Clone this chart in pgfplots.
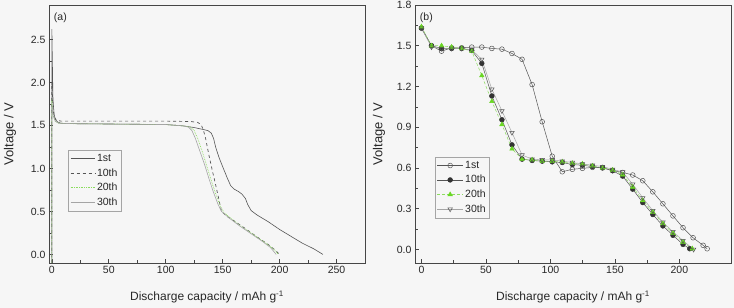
\documentclass[border=0pt]{standalone}
\usepackage{fontspec}
\setmainfont{Liberation Sans}
\usepackage{pgfplots}
\pgfplotsset{compat=1.18}
\usetikzlibrary{backgrounds}
\definecolor{bg}{RGB}{246,246,246}
\definecolor{ax}{RGB}{70,70,70}
\definecolor{txt}{RGB}{40,40,40}
\definecolor{dg}{RGB}{85,85,85}
\definecolor{lg}{RGB}{165,165,165}
\definecolor{gr}{RGB}{105,215,35}
\definecolor{grl}{RGB}{140,220,95}
\pgfplotsset{
  myax/.style={
    scale only axis, width=316pt, height=258pt, anchor=south west,
    axis line style={ax, line width=0.8pt},
    tick style={ax, line width=0.6pt},
    major tick length=4pt, minor tick length=2.5pt,
    tick align=inside, tick pos=left,
    minor x tick num=1, minor y tick num=1,
    tick label style={font=\fontsize{10.5}{12}\selectfont, text=txt},
    /pgf/number format/assume math mode=true,
    label style={font=\fontsize{12}{14}\selectfont, text=txt},
    ylabel style={font=\fontsize{13}{15}\selectfont},
    xlabel={Discharge capacity / mAh g\textsuperscript{-1}},
    ylabel={Voltage / V},
    yticklabel style={/pgf/number format/.cd, fixed, fixed zerofill, precision=1},
    xticklabel style={/pgf/number format/.cd, fixed, precision=0},
    legend cell align=left,
    clip=true,
  }
}
\begin{document}
\begin{tikzpicture}
\path[use as bounding box] (0,0) rectangle (734pt,308pt);
% ---------------- (a) ----------------
\begin{axis}[myax, at={(49pt,45pt)},
  xmin=-2.5, xmax=275, ymin=-0.1, ymax=2.9,
  xtick={0,50,100,150,200,250}, ytick={0,0.5,1,1.5,2,2.5},
  xlabel style={at={(axis description cs:0.5,0)}, anchor=center, yshift=-34pt},
  ylabel style={at={([xshift=-39pt]axis description cs:0,0.5)}, anchor=center},
  legend style={at={(0.06,0.438)}, anchor=north west, draw=lg, fill=none,
    font=\fontsize{10.5}{12}\selectfont, text=txt, row sep=1.5pt,
    inner xsep=2pt, inner ysep=2pt},
  legend image code/.code={\draw[#1] (0cm,0cm) -- (0.85cm,0cm);},
]
\addplot[dg, line width=0.6pt] coordinates {
(0,-0.1) (0,2.62) (0.5,2.2) (1,1.8) (2,1.63) (3,1.57) (5,1.54) (8,1.525) (20,1.52) (60,1.515) (100,1.51) (115,1.495) (125,1.475) (132,1.455) (137,1.44) (140,1.41) (142,1.35) (144,1.24) (147,1.12) (150,1.02) (154,0.89) (157,0.80) (160,0.76) (164,0.73) (167,0.70) (170,0.65) (172,0.58) (175,0.51) (180,0.46) (190,0.38) (200,0.29) (210,0.21) (220,0.13) (230,0.065) (238,0.0)
};
\addlegendentry{1st}
\addplot[dg, line width=0.7pt, dashed] coordinates {
(0,-0.1) (0,2.0) (1,1.7) (2,1.6) (4,1.56) (8,1.55) (100,1.55) (122,1.545) (128,1.535) (131,1.51) (133,1.45) (135,1.35) (138,1.15) (141,0.97) (144,0.80) (147,0.62) (149,0.50) (153,0.45) (160,0.39) (170,0.30) (180,0.205) (190,0.115) (197,0.04) (200,0.0)
};
\addlegendentry{10th}
\addplot[grl, line width=0.7pt, densely dotted] coordinates {
(0,-0.1) (0,1.8) (1,1.62) (3,1.55) (6,1.525) (20,1.52) (100,1.51) (115,1.495) (122,1.48) (125,1.44) (128,1.35) (132,1.20) (136,1.03) (140,0.86) (144,0.70) (148,0.56) (151,0.49) (157,0.42) (167,0.32) (177,0.23) (187,0.14) (194,0.07) (199,0.0)
};
\addlegendentry{20th}
\addplot[lg, line width=0.6pt] coordinates {
(0,-0.1) (0,1.75) (1,1.62) (3,1.55) (6,1.525) (20,1.52) (100,1.51) (115,1.495) (120,1.48) (123,1.44) (126,1.35) (130,1.20) (134,1.05) (138,0.88) (142,0.72) (146,0.58) (149,0.50) (155,0.43) (165,0.33) (175,0.24) (185,0.15) (192,0.08) (197,0.0)
};
\addlegendentry{30th}
\node[anchor=north west, font=\fontsize{10.5}{12}\selectfont, text=txt, inner sep=1pt] at (rel axis cs:0.012,0.975) {(a)};
\end{axis}
% ---------------- (b) ----------------
\begin{axis}[myax, at={(415pt,45pt)},
  xmin=-5, xmax=240, ymin=-0.1, ymax=1.8,
  xtick={0,50,100,150,200}, ytick={0,0.3,0.6,0.9,1.2,1.5,1.8},
  xlabel style={at={(axis description cs:0.5,0)}, anchor=center, yshift=-34pt},
  ylabel style={at={([xshift=-36pt]axis description cs:0,0.5)}, anchor=center},
  legend style={at={(0.063,0.411)}, anchor=north west, draw=lg, fill=none,
    font=\fontsize{10.5}{12}\selectfont, text=txt, row sep=1.5pt,
    inner xsep=2pt, inner ysep=2pt},
  legend image code/.code={\draw[mark repeat=2,mark phase=2,#1] plot coordinates {(0cm,0cm) (0.45cm,0cm) (0.9cm,0cm)};},
]
\addplot[dg, line width=0.5pt, mark=o, mark size=2.4pt, mark options={fill=bg, draw=dg}] coordinates {
(0,1.63) (7.8,1.50) (15.6,1.46) (23.4,1.485) (31.2,1.485) (39,1.49) (46.8,1.49) (54.6,1.48) (62.4,1.475) (70.2,1.443) (78,1.40) (85.8,1.214) (93.6,0.94) (101.4,0.686) (109.2,0.572) (117,0.59) (124.8,0.597) (132.6,0.604) (140.4,0.604) (148.2,0.58) (156,0.567) (163.8,0.548) (171.6,0.506) (179.4,0.424) (187.2,0.336) (195,0.247) (202.8,0.16) (210.6,0.086) (218.4,0.03) (221.5,0.005)
};
\addlegendentry{1st}
\addplot[dg, line width=0.5pt, mark=*, mark size=2.4pt, mark options={fill=black!80, draw=black!80}] coordinates {
(0,1.63) (7.8,1.50) (15.6,1.48) (23.4,1.48) (31.2,1.48) (39,1.465) (46.8,1.37) (54.6,1.13) (62.4,0.955) (70.2,0.77) (78,0.665) (85.8,0.655) (93.6,0.65) (101.4,0.645) (109.2,0.64) (117,0.625) (124.8,0.62) (132.6,0.61) (140.4,0.60) (148.2,0.58) (156,0.54) (163.8,0.444) (171.6,0.345) (179.4,0.257) (187.2,0.173) (195,0.104) (202.8,0.037) (208,0.005)
};
\addlegendentry{10th}
\addplot[grl, line width=0.5pt, densely dashed, mark=triangle*, mark size=2.6pt, mark options={solid, fill=gr, draw=gr}] coordinates {
(0,1.64) (7.8,1.50) (15.6,1.50) (23.4,1.49) (31.2,1.48) (39,1.46) (46.8,1.28) (54.6,1.09) (62.4,0.92) (70.2,0.74) (78,0.665) (85.8,0.66) (93.6,0.65) (101.4,0.65) (109.2,0.645) (117,0.635) (124.8,0.63) (132.6,0.615) (140.4,0.60) (148.2,0.585) (156,0.55) (163.8,0.46) (171.6,0.36) (179.4,0.275) (187.2,0.19) (195,0.12) (202.8,0.055) (210,0.005)
};
\addlegendentry{20th}
\addplot[lg, line width=0.5pt, mark=triangle, mark size=2.6pt, mark options={rotate=180, fill=bg, draw=dg}] coordinates {
(0,1.63) (7.8,1.49) (15.6,1.48) (23.4,1.48) (31.2,1.48) (39,1.47) (46.8,1.40) (54.6,1.18) (62.4,1.02) (70.2,0.86) (78,0.695) (85.8,0.665) (93.6,0.66) (101.4,0.66) (109.2,0.65) (117,0.64) (124.8,0.63) (132.6,0.62) (140.4,0.61) (148.2,0.59) (156,0.57) (163.8,0.48) (171.6,0.38) (179.4,0.285) (187.2,0.20) (195,0.13) (202.8,0.065) (211,0.0)
};
\addlegendentry{30th}
\node[anchor=north west, font=\fontsize{10.5}{12}\selectfont, text=txt, inner sep=1pt] at (rel axis cs:0.012,0.975) {(b)};
\end{axis}
\begin{scope}[on background layer]
\fill[bg] (0,0) rectangle (734pt,308pt);
\end{scope}
\end{tikzpicture}
\end{document}
